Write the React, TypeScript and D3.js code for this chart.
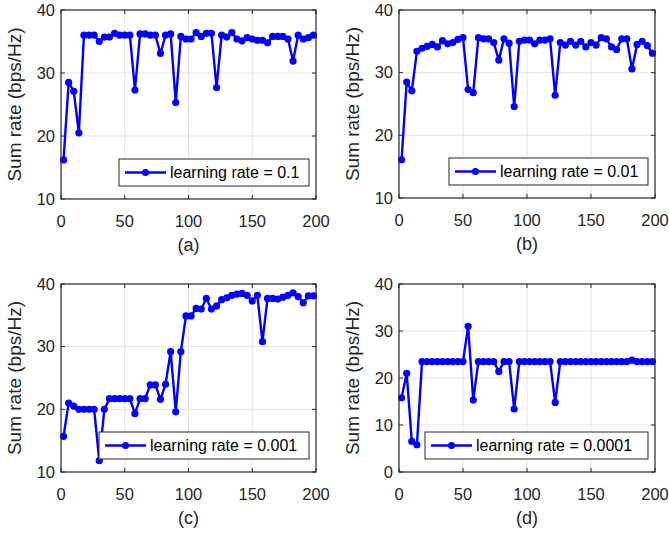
import * as d3 from "d3";

// iteration index of every plotted sample
const iterations = [
  2, 6, 10, 14, 18, 22, 26, 30, 34, 38, 42, 46, 50, 54, 58, 62, 66, 70, 74, 78,
  82, 86, 90, 94, 98, 102, 106, 110, 114, 118, 122, 126, 130, 134, 138, 142, 146, 150, 154, 158,
  162, 166, 170, 174, 178, 182, 186, 190, 194, 198,
];

const rateA = [
  16.2, 28.5, 27.1, 20.5, 36.0, 36.0, 36.0, 35.0, 35.7, 35.7, 36.3, 36.0, 36.0, 36.0, 27.3, 36.2, 36.2, 36.0, 36.0, 33.1,
  36.0, 36.2, 25.3, 35.8, 35.4, 35.4, 36.4, 35.8, 36.3, 36.3, 27.7, 36.0, 35.7, 36.4, 35.4, 35.1, 35.6, 35.4, 35.2, 35.2,
  34.8, 35.8, 35.8, 35.8, 35.4, 31.9, 36.0, 35.4, 35.6, 36.0,
];
const rateB = [
  16.1, 28.5, 27.1, 33.4, 33.9, 34.2, 34.5, 34.1, 35.1, 34.6, 34.8, 35.3, 35.6, 27.3, 26.8, 35.6, 35.4, 35.4, 34.8, 32.0,
  35.4, 34.7, 24.6, 35.0, 35.2, 35.2, 34.6, 35.2, 35.2, 35.4, 26.4, 34.8, 34.4, 35.0, 34.4, 35.0, 34.1, 34.8, 34.4, 35.6,
  35.4, 34.1, 33.7, 35.4, 35.4, 30.6, 34.5, 35.0, 34.3, 33.1,
];
const rateC = [
  15.7, 21.0, 20.5, 20.0, 20.0, 20.0, 20.0, 11.8, 20.0, 21.7, 21.7, 21.7, 21.7, 21.7, 19.3, 21.7, 21.7, 23.9, 23.9, 21.6,
  24.0, 29.2, 19.6, 29.2, 34.9, 34.9, 36.1, 36.0, 37.7, 36.0, 36.5, 37.5, 37.8, 38.2, 38.4, 38.5, 38.2, 37.3, 38.2, 30.8,
  37.7, 37.7, 37.6, 37.9, 38.2, 38.6, 38.0, 37.0, 38.1, 38.1,
];
const rateD = [
  15.8, 21.0, 6.5, 5.8, 23.5, 23.5, 23.5, 23.5, 23.5, 23.5, 23.5, 23.5, 23.5, 31.0, 15.3, 23.5, 23.5, 23.5, 23.5, 21.4,
  23.5, 23.5, 13.4, 23.5, 23.5, 23.5, 23.5, 23.5, 23.5, 23.5, 14.8, 23.5, 23.5, 23.5, 23.5, 23.5, 23.5, 23.5, 23.5, 23.5,
  23.5, 23.5, 23.5, 23.5, 23.5, 23.8, 23.5, 23.5, 23.5, 23.5,
];

const legendLabels = ["learning rate = 0.1", "learning rate = 0.01", "learning rate = 0.001", "learning rate = 0.0001"];
const captions = ["(a)", "(b)", "(c)", "(d)"];
const yDomains = [[10, 40], [10, 40], [10, 40], [0, 40]];
const yTickSets = [[10, 20, 30, 40], [10, 20, 30, 40], [10, 20, 30, 40], [0, 10, 20, 30, 40]];
const xTicks = [0, 50, 100, 150, 200];
const series = [rateA, rateB, rateC, rateD];

const FONT = "'Liberation Sans', Arial, sans-serif";
const INK = "#262626";
const BLUE = "#0000ff";

// plot box positions (layout only)
const panels = [
  {left: 61, top: 10, w: 255, h: 189, legendW: 190},
  {left: 399, top: 10, w: 256, h: 188, legendW: 199},
  {left: 61, top: 284, w: 255, h: 188, legendW: 210},
  {left: 399, top: 284, w: 256, h: 188, legendW: 223},
];

const Panel = ({idx}: {idx: number}) => {
  const p = panels[idx];
  const values = series[idx];
  const x = d3.scaleLinear().domain([0, 200]).range([0, p.w]);
  const y = d3.scaleLinear().domain(yDomains[idx]).range([p.h, 0]);
  const line = d3.line<number>()
    .x((_, i) => x(iterations[i]))
    .y(d => y(d));
  const yTicks = yTickSets[idx];
  const lgX = p.w - 7 - p.legendW;
  const lgY = p.h - 13 - 27;
  const tick = 4;

  return (
    <g transform={`translate(${p.left},${p.top})`}>
      <rect x={0} y={0} width={p.w} height={p.h} fill="#fff" />
      {xTicks.slice(1, -1).map(t => (
        <line key={"gx" + t} x1={x(t)} x2={x(t)} y1={0} y2={p.h} stroke="#e3e3e3" strokeWidth={1} />
      ))}
      {yTicks.slice(1, -1).map(t => (
        <line key={"gy" + t} x1={0} x2={p.w} y1={y(t)} y2={y(t)} stroke="#e3e3e3" strokeWidth={1} />
      ))}
      {xTicks.map(t => (
        <g key={"tx" + t}>
          <line x1={x(t)} x2={x(t)} y1={p.h} y2={p.h - tick} stroke={INK} />
          <line x1={x(t)} x2={x(t)} y1={0} y2={tick} stroke={INK} />
          <text x={x(t)} y={p.h + 27.5} textAnchor="middle" fontSize={16.5} fontFamily={FONT} fill={INK}>{t}</text>
        </g>
      ))}
      {yTicks.map(t => (
        <g key={"ty" + t}>
          <line x1={0} x2={tick} y1={y(t)} y2={y(t)} stroke={INK} />
          <line x1={p.w} x2={p.w - tick} y1={y(t)} y2={y(t)} stroke={INK} />
          <text x={-6} y={y(t)} dy="0.35em" textAnchor="end" fontSize={16.5} fontFamily={FONT} fill={INK}>{t}</text>
        </g>
      ))}
      <path d={line(values) ?? ""} fill="none" stroke={BLUE} strokeWidth={2.4} strokeLinejoin="round" />
      {values.map((v, i) => (
        <circle key={i} cx={x(iterations[i])} cy={y(v)} r={3.6} fill={BLUE} />
      ))}
      <rect x={0} y={0} width={p.w} height={p.h} fill="none" stroke={INK} strokeWidth={1.2} />
      <g transform={`translate(${lgX},${lgY})`}>
        <rect x={0} y={0} width={p.legendW} height={27} fill="#fff" stroke={INK} strokeWidth={1} />
        <line x1={6} x2={47} y1={13.5} y2={13.5} stroke={BLUE} strokeWidth={2.4} />
        <circle cx={26.5} cy={13.5} r={3.6} fill={BLUE} />
        <text x={51} y={13.5} dy="0.36em" fontSize={16} fontFamily={FONT} fill="#000">{legendLabels[idx]}</text>
      </g>
      <text transform={`translate(-40,${p.h / 2}) rotate(-90)`} textAnchor="middle" fontSize={19} fontFamily={FONT} fill={INK}>
        Sum rate (bps/Hz)
      </text>
      <text x={p.w / 2} y={p.h + 52} textAnchor="middle" fontSize={18} fontFamily={FONT} fill={INK}>{captions[idx]}</text>
    </g>
  );
};

export default function App() {
  return (
    <svg width={669} height={534} style={{position: "absolute", left: 0, top: 0, background: "#fff"}}>
      <rect width={669} height={534} fill="#fff" />
      {panels.map((_, i) => <Panel key={i} idx={i} />)}
    </svg>
  );
}
